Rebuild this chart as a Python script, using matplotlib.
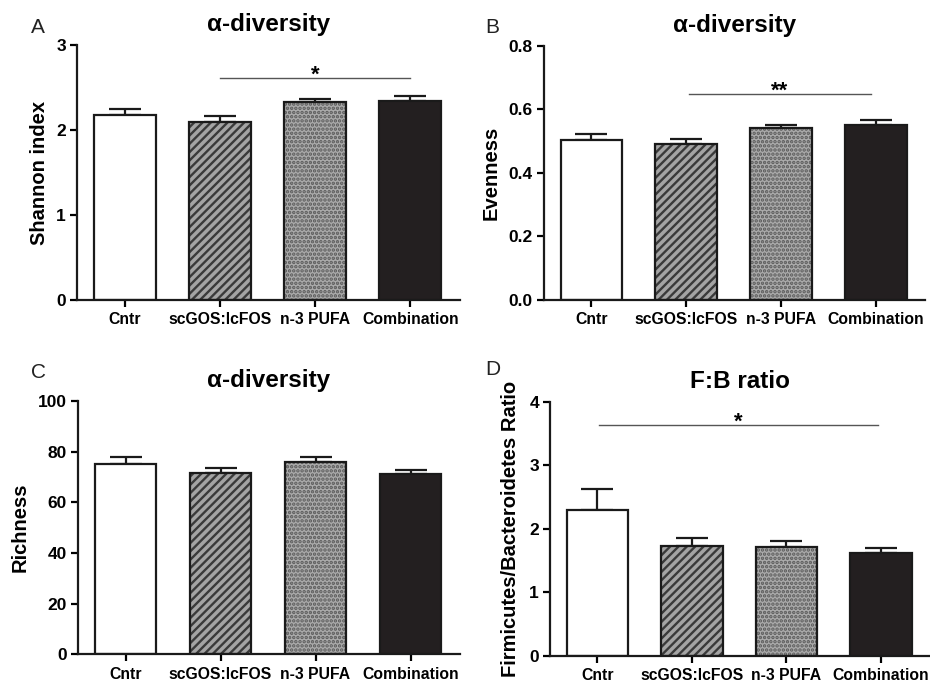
import numpy as np
import matplotlib.pyplot as plt

plt.rcParams['font.family'] = ['Liberation Sans', 'DejaVu Sans']
plt.rcParams['font.weight'] = 'bold'
plt.rcParams['hatch.linewidth'] = 1.7

groups = ["Cntr", "scGOS:lcFOS", "n-3 PUFA", "Combination"]

shannon = [2.18, 2.09, 2.33, 2.34]
shannon_sem = [0.07, 0.07, 0.03, 0.06]

evenness = [0.503, 0.491, 0.542, 0.549]
evenness_sem = [0.018, 0.016, 0.007, 0.018]

richness = [75.0, 71.5, 75.8, 71.2]
richness_sem = [2.8, 1.9, 2.2, 1.4]

fb_ratio = [2.29, 1.72, 1.71, 1.62]
fb_ratio_sem = [0.33, 0.13, 0.10, 0.08]

# bar look per group: face colour, hatch, hatch colour
fills = ["white", "#a4a4a4", "#aaaaaa", "#231f20"]
hatches = [None, "////", "....", None]
hatch_cols = ["white", "#3a3a3a", "#5a5a5a", "#231f20"]

fig = plt.figure(figsize=(9.3, 6.83), dpi=100)


def bar_panel(rect, vals, sem, ylim, yticks, yticklabels, ylabel, title,
              label_x, sig=None):
    ax = fig.add_axes(rect)
    x = np.arange(len(vals))
    w = 0.65
    for i in range(len(vals)):
        ax.bar(x[i], vals[i], w, color=fills[i], hatch=hatches[i],
               edgecolor=hatch_cols[i], linewidth=0, zorder=2)
    ax.bar(x, vals, w, color="none", edgecolor="#1a1a1a", linewidth=1.6, zorder=3)
    ax.errorbar(x, vals, yerr=[np.zeros(len(vals)), sem], fmt="none",
                ecolor="#1a1a1a", elinewidth=1.6, capsize=11.5, capthick=1.6,
                zorder=1)

    ax.set_xlim(-0.5, 3.52)
    ax.set_ylim(*ylim)
    ax.set_yticks(yticks)
    ax.set_yticklabels(yticklabels)
    ax.set_xticks(x)
    ax.set_xticklabels(groups)
    ax.tick_params(axis="x", labelsize=11.3, width=1.6, length=5, pad=4)
    ax.tick_params(axis="y", labelsize=12.5, width=1.6, length=5, pad=3)
    for s in ["top", "right"]:
        ax.spines[s].set_visible(False)
    for s in ["left", "bottom"]:
        ax.spines[s].set_linewidth(1.6)
        ax.spines[s].set_color("#1a1a1a")

    ax.set_ylabel(ylabel, fontsize=14.5, fontweight="bold", va="center")
    ax.yaxis.set_label_coords(label_x, 0.5)
    ax.set_title(title, fontsize=17.5, fontweight="bold", pad=10)

    if sig is not None:
        i0, i1, y, stars = sig
        ax.plot([i0, i1], [y, y], color="#555555", lw=1.0, zorder=1)
        ax.annotate(stars, ((i0 + i1) / 2, y), xytext=(0, -2),
                    textcoords="offset points", ha="center", va="baseline",
                    fontsize=16, fontweight="bold")
    return ax


bar_panel([0.0828, 0.5608, 0.4118, 0.3733], shannon, shannon_sem,
          (0, 3), [0, 1, 2, 3], ["0", "1", "2", "3"],
          "Shannon index", "α-diversity", -0.099, sig=(1, 3, 2.61, "*"))

bar_panel([0.585, 0.5608, 0.4096, 0.3725], evenness, evenness_sem,
          (0, 0.8), [0, 0.2, 0.4, 0.6, 0.8], ["0.0", "0.2", "0.4", "0.6", "0.8"],
          "Evenness", "α-diversity", -0.140, sig=(1.03, 2.95, 0.647, "**"))

bar_panel([0.0839, 0.042, 0.4107, 0.3709], richness, richness_sem,
          (0, 100), [0, 20, 40, 60, 80, 100], ["0", "20", "40", "60", "80", "100"],
          "Richness", "α-diversity", -0.152)

bar_panel([0.5914, 0.040, 0.4086, 0.3719], fb_ratio, fb_ratio_sem,
          (0, 4), [0, 1, 2, 3, 4], ["0", "1", "2", "3", "4"],
          "Firmicutes/Bacteroidetes Ratio", "F:B ratio", -0.105,
          sig=(0.02, 2.97, 3.63, "*"))

# panel letters
for letter, px, py in [("A", 38, 33), ("B", 492, 33), ("C", 38, 378), ("D", 493, 375)]:
    fig.text(px / 930, 1 - py / 683, letter, fontsize=15, fontweight="normal",
             ha="center", va="baseline", color="#222222")

fig.savefig("out.png", dpi=100)
